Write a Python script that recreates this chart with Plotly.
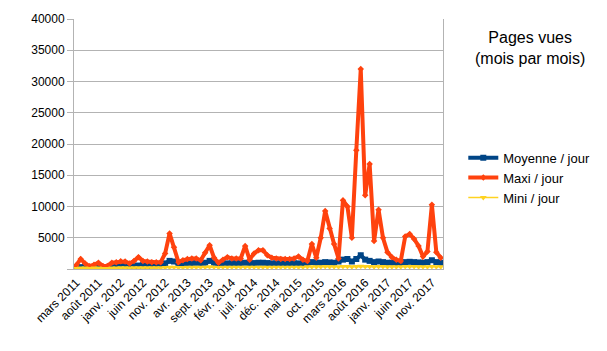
import plotly.graph_objects as go

mois_fr = ["janv.", "févr.", "mars", "avr.", "mai", "juin", "juil.", "août", "sept.", "oct.", "nov.", "déc."]
months = []
y, m = 2011, 2
for _ in range(83):
    months.append(f"{mois_fr[m]} {y}")
    m += 1
    if m == 12:
        m = 0
        y += 1

maxi = [600, 1600, 900, 450, 700, 1000, 500, 500, 1000, 1100,
        1250, 1200, 900, 1300, 1900, 1300, 1200, 1100, 1100, 1100,
        2500, 5700, 3500, 1100, 1400, 1600, 1700, 1700, 1400, 2600,
        3800, 1800, 1000, 1500, 1900, 1700, 1700, 1700, 3700, 1500,
        2500, 3000, 3000, 2200, 1800, 1700, 1600, 1600, 1600, 1700,
        2000, 1500, 1300, 4000, 1800, 5000, 9300, 6500, 4000, 1700,
        11000, 10000, 5000, 19000, 32000, 11800, 16800, 4500, 9500, 5000,
        2700, 1900, 1500, 1300, 5200, 5600, 4800, 3700, 2000, 2800,
        10300, 2700, 1800]

moyenne = [250, 300, 300, 250, 300, 350, 250, 200, 250, 400,
           450, 500, 450, 500, 550, 600, 550, 600, 600, 700,
           900, 1300, 1200, 800, 800, 850, 900, 1000, 900, 1000,
           1300, 1000, 800, 850, 900, 900, 950, 950, 1000, 900,
           950, 1000, 1000, 950, 900, 900, 900, 900, 900, 900,
           900, 900, 950, 1100, 1000, 1000, 1100, 1050, 1000, 1200,
           1500, 1600, 1200, 1600, 2200, 1500, 1300, 1100, 1200, 1100,
           1000, 1000, 950, 950, 1100, 1150, 1100, 1050, 1000, 1100,
           1400, 1100, 1000]

mini = [100, 150, 150, 100, 150, 150, 100, 100, 150, 150,
        200, 200, 150, 200, 200, 200, 200, 200, 200, 200,
        250, 300, 300, 250, 250, 300, 300, 300, 300, 300,
        350, 300, 250, 300, 300, 300, 300, 300, 300, 300,
        300, 300, 300, 300, 300, 300, 300, 300, 300, 300,
        300, 300, 350, 350, 350, 350, 400, 350, 350, 350,
        400, 400, 350, 400, 450, 400, 400, 350, 400, 400,
        350, 350, 350, 350, 400, 400, 400, 350, 350, 350,
        400, 350, 350]

x = list(range(len(months)))
label_alias = {str(i): months[i] for i in range(0, len(months), 5)}
xrange_ = [-0.5, len(months) - 0.5]
yrange_ = [0, 40000]

fig = go.Figure()
fig.add_trace(go.Scatter(x=x, y=moyenne, name="Moyenne / jour", mode="lines+markers",
                         line=dict(color="#004586", width=4),
                         marker=dict(symbol="square", size=6, color="#004586")))
fig.add_trace(go.Scatter(x=x, y=maxi, name="Maxi / jour", mode="lines+markers",
                         line=dict(color="#FF420E", width=4),
                         marker=dict(symbol="diamond", size=5, color="#FF420E")))
fig.add_trace(go.Scatter(x=x, y=mini, name="Mini / jour", mode="lines+markers",
                         line=dict(color="#FFD320", width=1.5),
                         marker=dict(symbol="triangle-down", size=6, color="#FFD320")))

fig.update_layout(
    width=607, height=351,
    margin=dict(l=74, r=159, t=14, b=82),
    paper_bgcolor="white", plot_bgcolor="white",
    font=dict(family="Liberation Sans, Arial, sans-serif", size=12, color="black"),
    showlegend=True,
    legend=dict(x=1.055, y=0.505, xanchor="left", yanchor="top",
                font=dict(size=13), tracegroupgap=0, bgcolor="rgba(0,0,0,0)"),
    annotations=[dict(text="Pages vues<br>(mois par mois)", xref="paper", yref="paper",
                      x=1.237, y=0.885, xanchor="center", yanchor="middle", showarrow=False,
                      font=dict(size=16, color="black"))],
    xaxis=dict(
        range=xrange_,
        tickmode="linear", tick0=0, dtick=5, labelalias=label_alias,
        tickangle=-45, ticks="outside", ticklen=1, tickcolor="rgba(0,0,0,0)",
        showline=True, linecolor="#b3b3b3", linewidth=1,
        showgrid=False, zeroline=False, tickfont=dict(size=12),
    ),
    yaxis=dict(
        range=yrange_,
        tickmode="linear", tick0=0, dtick=5000, tickformat="d", labelalias={"0": " "},
        ticks="outside", ticklen=6, tickcolor="#b3b3b3",
        showline=True, mirror=True, linecolor="#b3b3b3", linewidth=1,
        showgrid=True, gridcolor="#b3b3b3", gridwidth=1, zeroline=False,
        tickfont=dict(size=12),
    ),
    xaxis2=dict(
        overlaying="x", anchor="y", side="bottom", range=xrange_,
        tickmode="linear", tick0=-0.5, dtick=1, ticks="outside", ticklen=5,
        tickcolor="#b3b3b3", showticklabels=False, showgrid=False, zeroline=False,
        showline=False,
    ),
    yaxis2=dict(
        overlaying="y", anchor="x", side="left", range=yrange_,
        tickmode="linear", tick0=0, dtick=500, ticks="outside", ticklen=3,
        tickcolor="#b3b3b3", showticklabels=False, showgrid=False, zeroline=False,
        showline=False,
    ),
)

fig.write_html("out.html")
